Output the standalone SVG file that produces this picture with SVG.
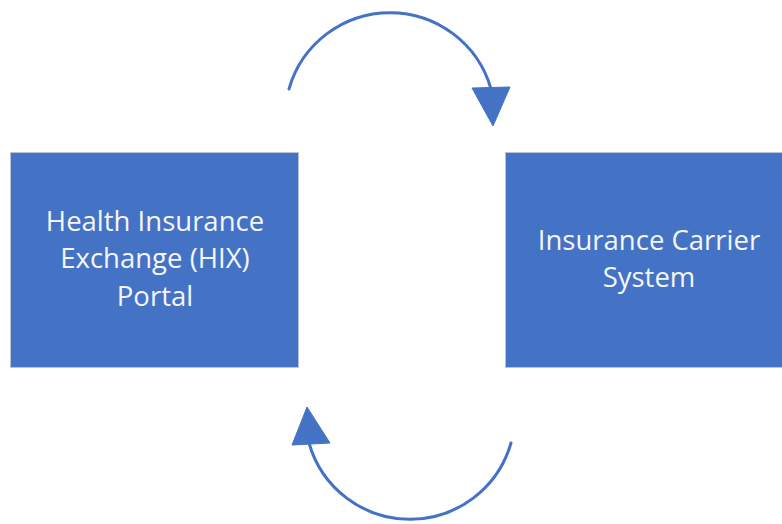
<svg xmlns="http://www.w3.org/2000/svg" width="782" height="524" viewBox="0 0 782 524">
  <style>
    .box { fill: #4472C4; stroke: #b9c3d6; stroke-width: 1; }
    .label { font-family: "Open Sans", "Noto Sans", sans-serif; font-size: 27.5px; fill: #f4f6fa; text-anchor: middle; }
    .arc { fill: none; stroke: #4472C4; stroke-width: 3; stroke-linecap: round; }
    .head { fill: #4472C4; stroke: #4472C4; stroke-width: 1; stroke-linejoin: round; }
  </style>
  <rect width="782" height="524" fill="#ffffff"/>

  <g id="hix-portal">
    <rect class="box" x="10.5" y="152.5" width="288" height="215"/>
    <text class="label" x="155" y="231">Health Insurance</text>
    <text class="label" x="155" y="268">Exchange (HIX)</text>
    <text class="label" x="155" y="306">Portal</text>
  </g>

  <g id="carrier-system">
    <rect class="box" x="505.5" y="152.5" width="290" height="215"/>
    <text class="label" x="649" y="250">Insurance Carrier</text>
    <text class="label" x="649" y="287">System</text>
  </g>

  <g id="connectors">
    <!-- portal to carrier, over the top -->
    <path class="arc" d="M289,89 A105,105 0 0 1 491,89"/>
    <polygon class="head" points="472,88 510,87 493,126"/>
    <!-- carrier back to portal, under the bottom -->
    <path class="arc" d="M511,443 A105,105 0 0 1 309,443"/>
    <polygon class="head" points="292,445 330,443 307,407"/>
  </g>
</svg>
